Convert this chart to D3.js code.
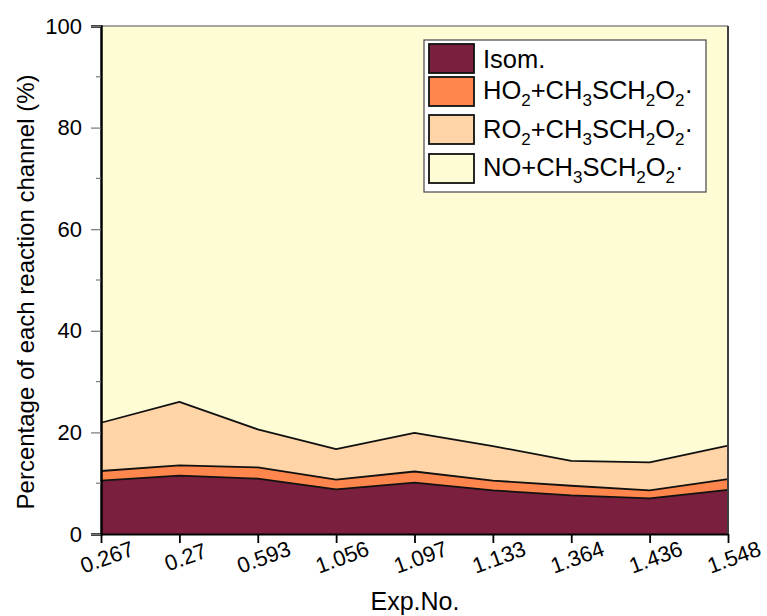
<!DOCTYPE html>
<html>
<head>
<meta charset="utf-8">
<script src="https://cdn.jsdelivr.net/npm/d3@7"></script>
<style>
  html, body { margin: 0; padding: 0; background: #fff; }
  svg { display: block; font-family: Arial, "Liberation Sans", sans-serif; }
</style>
</head>
<body>
<svg id="chart" width="767" height="616"></svg>
<script>
// Experiment labels along the x axis
const categories = ["0.267", "0.27", "0.593", "1.056", "1.097", "1.133", "1.364", "1.436", "1.548"];

// Share of each reaction channel (%) per experiment
const isom = [10.5, 11.5, 10.9, 8.8, 10.1, 8.6, 7.6, 7.0, 8.7];
const ho2  = [1.9, 2.0, 2.2, 1.9, 2.2, 1.9, 1.9, 1.6, 2.1];
const ro2  = [9.5, 12.5, 7.5, 6.0, 7.6, 6.8, 4.9, 5.5, 6.6];
const no   = [78.1, 74.0, 79.4, 83.3, 80.1, 82.7, 85.6, 85.9, 82.6];

const yTicks = [0, 20, 40, 60, 80, 100];
const yMinorTicks = [10, 30, 50, 70, 90];

const seriesKeys = ["isom", "ho2", "ro2", "no"];
const seriesColors = { isom: "#7a1f3e", ho2: "#ff864c", ro2: "#ffd4a6", no: "#fdfcd5" };

// Legend entries: [text, isSubscript] pieces
const legendItems = [
  { key: "isom", parts: [["Isom.", false]] },
  { key: "ho2",  parts: [["HO", false], ["2", true], ["+CH", false], ["3", true], ["SCH", false], ["2", true], ["O", false], ["2", true], ["·", false]] },
  { key: "ro2",  parts: [["RO", false], ["2", true], ["+CH", false], ["3", true], ["SCH", false], ["2", true], ["O", false], ["2", true], ["·", false]] },
  { key: "no",   parts: [["NO+CH", false], ["3", true], ["SCH", false], ["2", true], ["O", false], ["2", true], ["·", false]] }
];

const rows = categories.map((c, i) => ({ cat: c, isom: isom[i], ho2: ho2[i], ro2: ro2[i], no: no[i] }));

const svg = d3.select("#chart");
const plotLeft = 101, plotRight = 728, plotTop = 26, plotBottom = 534;

const x = d3.scalePoint().domain(categories).range([plotLeft, plotRight]).padding(0);
const y = d3.scaleLinear().domain([0, 100]).range([plotBottom, plotTop]);

const stacked = d3.stack().keys(seriesKeys)(rows);

const area = d3.area()
  .x(d => x(d.data.cat))
  .y0(d => y(d[0]))
  .y1(d => y(d[1]));

const line = d3.line()
  .x(d => x(d.data.cat))
  .y(d => y(d[1]));

// Stacked layers
svg.append("g").selectAll("path")
  .data(stacked)
  .join("path")
  .attr("d", area)
  .attr("fill", d => seriesColors[d.key]);

// Boundary lines between layers (the top one coincides with the frame)
svg.append("g").selectAll("path")
  .data(stacked.slice(0, 3))
  .join("path")
  .attr("d", line)
  .attr("fill", "none")
  .attr("stroke", "#111")
  .attr("stroke-width", 1.8)
  .attr("stroke-linejoin", "round");

// Frame: top and right edges
svg.append("line").attr("x1", plotLeft).attr("x2", plotRight).attr("y1", plotTop).attr("y2", plotTop)
  .attr("stroke", "#8a8a8a").attr("stroke-width", 1.5);
svg.append("line").attr("x1", plotRight).attr("x2", plotRight).attr("y1", plotTop).attr("y2", plotBottom)
  .attr("stroke", "#404040").attr("stroke-width", 2);

// Y axis
const yAxis = svg.append("g").attr("transform", `translate(${plotLeft},0)`)
  .call(d3.axisLeft(y).tickValues(yTicks).tickSize(10).tickPadding(9).tickFormat(d3.format("d")));
yAxis.select(".domain").attr("stroke", "#000").attr("stroke-width", 2.5);
yAxis.selectAll(".tick line").attr("stroke", "#777").attr("stroke-width", 1.2);
yAxis.selectAll(".tick text").attr("font-size", 22).attr("fill", "#000")
  .attr("font-family", "Arial, 'Liberation Sans', sans-serif");

svg.append("g").selectAll("line")
  .data(yMinorTicks)
  .join("line")
  .attr("x1", plotLeft - 5).attr("x2", plotLeft)
  .attr("y1", d => y(d)).attr("y2", d => y(d))
  .attr("stroke", "#777").attr("stroke-width", 1.2);

// X axis
const xAxis = svg.append("g").attr("transform", `translate(0,${plotBottom})`)
  .call(d3.axisBottom(x).tickSize(9).tickSizeOuter(0).tickFormat(() => ""));
xAxis.select(".domain").attr("stroke", "#000").attr("stroke-width", 2);
xAxis.selectAll(".tick line").attr("stroke", "#000").attr("stroke-width", 1.8);

svg.append("g").selectAll("text")
  .data(categories)
  .join("text")
  .attr("transform", d => `translate(${x(d) + 6},557) rotate(-20)`)
  .attr("text-anchor", "middle")
  .attr("dy", "0.35em")
  .attr("font-size", 22)
  .attr("fill", "#000")
  .text(d => d);

// Axis titles
svg.append("text")
  .attr("x", 415).attr("y", 610)
  .attr("text-anchor", "middle")
  .attr("font-size", 25)
  .text("Exp.No.");

svg.append("text")
  .attr("transform", "translate(34,292) rotate(-90)")
  .attr("text-anchor", "middle")
  .attr("font-size", 24)
  .text("Percentage of each reaction channel (%)");

// Legend
const legend = svg.append("g");
legend.append("rect")
  .attr("x", 424).attr("y", 40).attr("width", 282).attr("height", 152)
  .attr("fill", "#fff").attr("stroke", "#555").attr("stroke-width", 1.3);

const swatchY = [44, 77, 115, 154];
const baseY = [68, 99, 138, 176];
legendItems.forEach((item, i) => {
  legend.append("rect")
    .attr("x", 429).attr("y", swatchY[i]).attr("width", 45).attr("height", 29)
    .attr("fill", seriesColors[item.key]).attr("stroke", "#111").attr("stroke-width", 1.8);
  const t = legend.append("text").attr("x", 483).attr("y", baseY[i]).attr("font-size", 25.5);
  let shift = 0;
  item.parts.forEach(([s, sub]) => {
    const target = sub ? 7 : 0;
    const ts = t.append("tspan").text(s).attr("dy", target - shift);
    if (sub) ts.attr("font-size", 17);
    shift = target;
  });
});
</script>
</body>
</html>
